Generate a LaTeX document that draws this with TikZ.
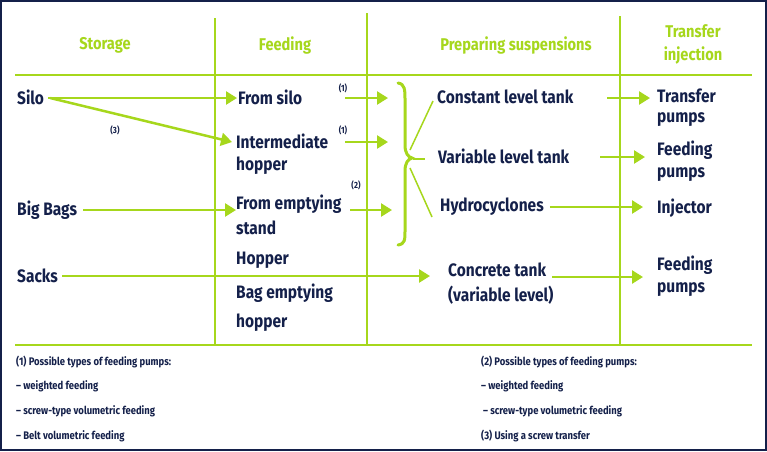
\documentclass[tikz,border=0pt]{standalone}
\usepackage{fontspec}
\setmainfont{Fira Sans}[FakeStretch=0.86]
\usetikzlibrary{arrows.meta}
\definecolor{gr}{HTML}{A6D71C}
\definecolor{nv}{HTML}{14204A}
\begin{document}
\begin{tikzpicture}[x=1pt,y=-1pt,
  t/.style={anchor=west,inner sep=0pt,text=nv,font=\bfseries\fontsize{18}{20}\selectfont},
  h/.style={inner sep=0pt,text=gr,font=\bfseries\fontsize{17}{23}\selectfont,align=center},
  s/.style={inner sep=0pt,text=nv,font=\bfseries\fontsize{9}{10}\selectfont},
  f/.style={anchor=west,inner sep=0pt,text=nv,font=\bfseries\fontsize{11}{12}\selectfont},
  ar/.style={draw=gr,line width=2.5pt,-{Triangle[length=11pt,width=13pt]}},
  gl/.style={draw=gr,line width=1.5pt}]
\fill[white] (0,0) rectangle (767,451);
\draw[nv,line width=2pt] (1,1) rectangle (766,450);
% grid
\draw[gl] (15,75) -- (752,75);
\draw[gl] (15,345) -- (752,345);
\draw[gl] (215,18) -- (215,345);
\draw[gl] (367,13) -- (367,345);
\draw[gl] (620,16) -- (620,345);
% headers
\node[h] (hs) at (105,45) {Storage};
\node[h] (hf) at (285,45) {Feeding};
\node[h] (hp) at (516,45) {Preparing suspensions};
\node[h] (ht) at (693,44) {Transfer\\injection};
% storage
\node[t] (silo) at (17,97) {Silo};
\node[t] (bb) at (17,210) {Big Bags};
\node[t] (sacks) at (17,276) {Sacks};
% feeding
\node[t] (fs) at (238,97) {From silo};
\node[t] (ih1) at (236,141) {Intermediate};
\node[t] (ih2) at (236,166) {hopper};
\node[t] (fe1) at (236,204) {From emptying};
\node[t] (fe2) at (236,228) {stand};
\node[t] (hop) at (236,260) {Hopper};
\node[t] (be1) at (236,293) {Bag emptying};
\node[t] (be2) at (236,323) {hopper};
\node[s] (n1a) at (343,88) {(1)};
\node[s] (n1b) at (343,130) {(1)};
\node[s] (n2) at (356,185) {(2)};
\node[s] (n3) at (115,130) {(3)};
% preparing
\node[t] (clt) at (437,97) {Constant level tank};
\node[t] (vlt) at (438,156) {Variable level tank};
\node[t] (hyd) at (440,207) {Hydrocyclones};
\node[t] (ct1) at (448,270) {Concrete tank};
\node[t] (ct2) at (448,295) {(variable level)};
% transfer
\node[t] (tp1) at (657,96) {Transfer};
\node[t] (tp2) at (657,120) {pumps};
\node[t] (fp1) at (657,150) {Feeding};
\node[t] (fp2) at (657,175) {pumps};
\node[t] (inj) at (657,208) {Injector};
\node[t] (fq1) at (657,265) {Feeding};
\node[t] (fq2) at (657,290) {pumps};
% coordinates
\coordinate (a1) at (345,98); \coordinate (a1e) at (388,98);
\coordinate (a2) at (345,142); \coordinate (a2e) at (388,142);
\coordinate (a3) at (350,210); \coordinate (a3e) at (392,210);
\coordinate (br) at (412,158);
% arrows
\draw[ar] (silo.east)++(4,1) -- ([xshift=-1pt]fs.west|-0,98);
\draw[ar] (silo.east)++(6,1) -- (232,142);
\draw[ar] (bb.east)++(6,0) -- (236,210);
\draw[ar] (sacks.east)++(4,0) -- (430,276);
\draw[ar] (a1) -- (a1e);
\draw[ar] (a2) -- (a2e);
\draw[ar] (a3) -- (a3e);
\draw[ar] (607,98) -- (650,98);
\draw[ar] (600,157) -- (645,157);
\draw[ar] (hyd.east)++(6,0) -- (643,207);
\draw[ar] (ct1.east)++(6,7) -- (643,277);
% brace
\draw[gr,line width=3pt,line cap=round] (398,83) .. controls (405,84) and (405,90) .. (405,100) -- (405,145) .. controls (405,153) and (408,157) .. (br) .. controls (408,159) and (405,163) .. (405,171) -- (405,230) .. controls (405,240) and (405,244) .. (398,245);
\draw[gl] (410,150) -- (433,101);
\draw[gl] (413,159) -- (425,159);
\draw[gl] (410,168) -- (432,217);
% footnotes
\node[f] (l1) at (16,362) {(1) Possible types of feeding pumps:};
\node[f] (l2) at (16,386) {– weighted feeding};
\node[f] (l3) at (16,411) {– screw-type volumetric feeding};
\node[f] (l4) at (16,436) {– Belt volumetric feeding};
\node[f] (r1) at (481,362) {(2) Possible types of feeding pumps:};
\node[f] (r2) at (481,386) {– weighted feeding};
\node[f] (r3) at (483,411) {– screw-type volumetric feeding};
\node[f] (r4) at (481,436) {(3) Using a screw transfer};
\end{tikzpicture}
\end{document}
